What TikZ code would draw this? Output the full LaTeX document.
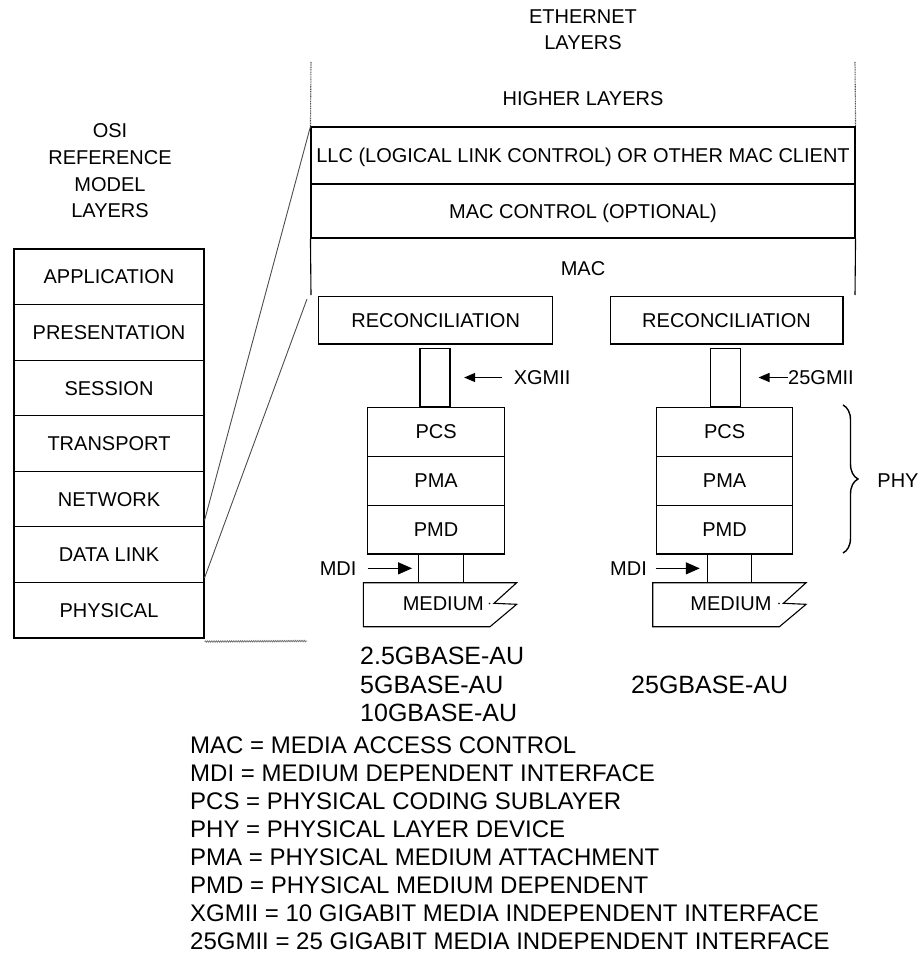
\documentclass[tikz,border=0pt]{standalone}
\usepackage{fontspec}
\setmainfont{Liberation Sans}
\usetikzlibrary{arrows.meta,decorations.pathreplacing,decorations.pathmorphing,calc}
\begin{document}
\begin{tikzpicture}[x=1pt,y=-1pt,
  ln/.style={line width=1.1pt},
  box/.style={draw,line width=1.1pt,inner sep=0pt,font=\fontsize{20}{24}\selectfont,text height=14.3pt,text depth=0pt},
  t/.style={inner sep=0pt,font=\fontsize{20}{24}\selectfont,text height=14.3pt,text depth=0pt},
  leg/.style={inner sep=0pt,anchor=west,font=\fontsize{24}{28}\selectfont,text height=17.2pt,text depth=0pt},
  basel/.style={inner sep=0pt,anchor=west,font=\fontsize{25}{30}\selectfont,text height=17.9pt,text depth=0pt},
  dots/.style={line width=1.1pt,black!65,dash pattern=on 1pt off 0.7pt},
  arrX/.style={line width=1.4pt,-{Triangle[length=11pt,width=9pt]}},
  arrM/.style={line width=1.4pt,-{Triangle[length=14pt,width=12pt]}},
  slant/.style={line width=0.9pt,black!70}
]
\useasboundingbox (0,0) rectangle (922,955);

% OSI labels
\node[t] (osiA) at (110,130) {OSI};
\node[t] (osiB) at (110,157) {REFERENCE};
\node[t] (osiC) at (110,184) {MODEL};
\node[t] (osiD) at (110,210) {LAYERS};

% OSI stack
\foreach \n/\txt [count=\i from 0] in {app/APPLICATION,pre/PRESENTATION,ses/SESSION,tra/TRANSPORT,net/NETWORK,dl/DATA LINK,ph/PHYSICAL}
  \node[box,minimum width=190pt,minimum height=55.57pt] (\n) at (109,{249+55.57*(\i+0.5)}) {\txt};
\coordinate (gndR) at (307,641);
\draw[line width=0.8pt,black!55,decorate,decoration={snake,amplitude=0.7pt,segment length=2.2pt}] ([yshift=-3pt]ph.south east) -- (gndR);

% Ethernet layers
\node[t] (ethA) at (583,16) {ETHERNET};
\node[t] (ethB) at (583,42) {LAYERS};
\node[t] (hl) at (583,98) {HIGHER LAYERS};
\node[box,minimum width=544pt,minimum height=57pt] (llc) at (583,155.5) {LLC (LOGICAL LINK CONTROL) OR OTHER MAC CLIENT};
\node[box,minimum width=544pt,minimum height=54pt] (macc) at (583,211) {MAC CONTROL (OPTIONAL)};
\node[t] (mac) at (583,268) {MAC};
\coordinate (hlTL) at (311,62);
\coordinate (hlTR) at (855,62);
\draw[dots] (hlTL) -- (llc.north west);
\draw[dots] (hlTR) -- (llc.north east);
\coordinate (macBL) at (311,295);
\coordinate (macBR) at (855,295);
\draw[ln] (macc.south west) -- (macBL);
\draw[ln] (macc.south east) -- (macBR);
\coordinate (slantEnd) at (307,299);

% zoom lines
\draw[slant] ([yshift=6pt]dl.north east) -- (llc.north west);
\draw[slant] ([yshift=4pt]ph.north east) -- (slantEnd);

% left PHY stack
\node[box,minimum width=234.3pt,minimum height=47.3pt] (recL) at (435.7,320.3) {RECONCILIATION};
\node[box,minimum width=30pt,minimum height=58.4pt] (xgL) at (435,377.5) {};
\node[box,minimum width=136.4pt,minimum height=48.9pt] (pcsL) at (436.1,431.75) {PCS};
\node[box,minimum width=136.4pt,minimum height=48.9pt] (pmaL) at (436.1,480.65) {PMA};
\node[box,minimum width=136.4pt,minimum height=48.9pt] (pmdL) at (436.1,529.55) {PMD};
\node[box,minimum width=44.6pt,minimum height=28.7pt] (mdcL) at (440.9,568.35) {};
\draw[ln] (363.3,582.7) -- (516.7,582.7) -- (494,603.3) -- (516.7,604.3) -- (490,626.7) -- (363.3,626.7) -- cycle;
\node[t] (medL) at (443.3,603.3) {MEDIUM};
\fill (489.5,603.5) circle (0.9pt);
\node[t,anchor=west] (xgLbl) at (513.6,377.5) {XGMII};
\draw[arrX] ([xshift=-11.8pt]xgLbl.west) -- ([xshift=13.6pt]xgL.east);
\node[t,anchor=west] (mdiL) at (319.6,568.35) {MDI};
\draw[arrM] ([xshift=11pt]mdiL.east) -- ([xshift=-6pt]mdcL.west);

% right PHY stack
\node[box,minimum width=232.9pt,minimum height=47.3pt] (recR) at (726.5,320.3) {RECONCILIATION};
\node[box,minimum width=29.7pt,minimum height=58.4pt] (xgR) at (725.5,377.5) {};
\node[box,minimum width=136.5pt,minimum height=48.9pt] (pcsR) at (724.6,431.75) {PCS};
\node[box,minimum width=136.5pt,minimum height=48.9pt] (pmaR) at (724.6,480.65) {PMA};
\node[box,minimum width=136.5pt,minimum height=48.9pt] (pmdR) at (724.6,529.55) {PMD};
\node[box,minimum width=44.4pt,minimum height=28.7pt] (mdcR) at (729.5,568.35) {};
\draw[ln] (652.7,582.7) -- (806.1,582.7) -- (783.4,603.3) -- (806.1,604.3) -- (779.4,626.7) -- (652.7,626.7) -- cycle;
\node[t] (medR) at (731,603.3) {MEDIUM};
\fill (778.9,603.5) circle (0.9pt);
\node[t,anchor=west] (gmLbl) at (788,377.5) {25GMII};
\draw[arrX] ([xshift=-0.5pt]gmLbl.west) -- ([xshift=17.6pt]xgR.east);
\node[t,anchor=west] (mdiR) at (610,568.35) {MDI};
\draw[arrM] ([xshift=8.5pt]mdiR.east) -- ([xshift=-7pt]mdcR.west);

% PHY brace
\coordinate (brT) at (843,405);
\coordinate (brB) at (843,553);
\draw[line width=1.4pt,decorate,decoration={brace,amplitude=15pt}] (brT) -- (brB);
\node[t] (phy) at (898,480) {PHY};

% port type labels
\node[basel] (b1) at (360,656) {2.5GBASE-AU};
\node[basel] (b2) at (360,685) {5GBASE-AU};
\node[basel] (b3) at (360,713) {10GBASE-AU};
\node[basel] (b4) at (631,685) {25GBASE-AU};

% legend
\node[leg] (l1) at (190,745) {MAC = MEDIA ACCESS CONTROL};
\node[leg] (l2) at (190,773) {MDI = MEDIUM DEPENDENT INTERFACE};
\node[leg] (l3) at (190,801) {PCS = PHYSICAL CODING SUBLAYER};
\node[leg] (l4) at (190,829) {PHY = PHYSICAL LAYER DEVICE};
\node[leg] (l5) at (190,857) {PMA = PHYSICAL MEDIUM ATTACHMENT};
\node[leg] (l6) at (190,885) {PMD = PHYSICAL MEDIUM DEPENDENT};
\node[leg] (l7) at (190,913) {XGMII = 10 GIGABIT MEDIA INDEPENDENT INTERFACE};
\node[leg] (l8) at (190,941) {25GMII = 25 GIGABIT MEDIA INDEPENDENT INTERFACE};
\end{tikzpicture}
\end{document}
